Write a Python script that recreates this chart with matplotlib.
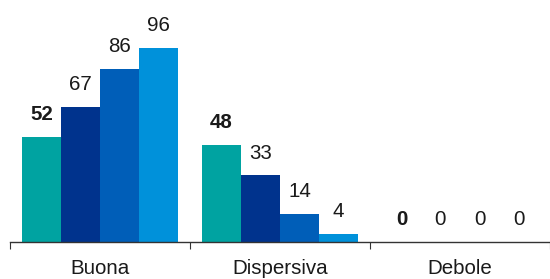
import numpy as np
import matplotlib
matplotlib.use('Agg')
from matplotlib import pyplot as plt

categories = ['Buona', 'Dispersiva', 'Debole']
series1 = [52, 48, 0]
series2 = [67, 33, 0]
series3 = [86, 14, 0]
series4 = [96, 4, 0]

colors = ['#00a3a1', '#00338d', '#005eb8', '#0091da']

plt.rcParams['font.family'] = ['Liberation Sans', 'DejaVu Sans']

fig = plt.figure(figsize=(5.5, 2.79), dpi=100)
ax = fig.add_axes([10/550, 37/279, 540/550, 242/279])

x = np.arange(len(categories))
w = 0.2167
offsets = [-1.5*w, -0.5*w, 0.5*w, 1.5*w]
allseries = [series1, series2, series3, series4]

for kk in range(4):
    vals = allseries[kk]
    ax.bar(x + offsets[kk], vals, width=w, color=colors[kk], linewidth=0)
    for nn in range(len(x)):
        ax.annotate('%d' % vals[nn], (x[nn] + offsets[kk], vals[nn]),
                    xytext=(0, 12.2), textcoords='offset points',
                    ha='center', va='baseline', fontsize=14.8,
                    color='#1a1a1a',
                    fontweight='bold' if kk == 0 else 'normal')

ax.set_xlim(-0.5, 2.5)
ax.set_ylim(0, 120)

for s in ['top', 'right', 'left']:
    ax.spines[s].set_visible(False)
ax.spines['bottom'].set_color('#333333')
ax.spines['bottom'].set_linewidth(1)

ax.set_yticks([])
ax.set_xticks([-0.5, 0.5, 1.5, 2.5])
ax.set_xticklabels([])
ax.tick_params(axis='x', length=5, color='#333333', direction='out')
ax.set_xticks(x, minor=True)
ax.set_xticklabels(categories, minor=True, fontsize=14.8, color='#1a1a1a')
ax.tick_params(axis='x', which='minor', length=0, pad=12.5)

plt.savefig('out.png', dpi=100)
